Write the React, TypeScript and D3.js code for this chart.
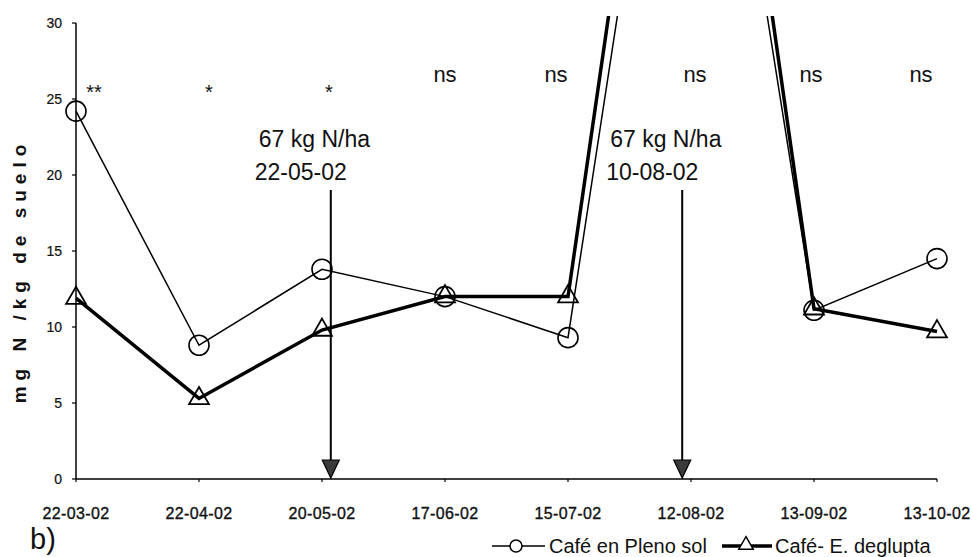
import React from "react";
import * as d3 from "d3";

const categories = ["22-03-02", "22-04-02", "20-05-02", "17-06-02", "15-07-02", "12-08-02", "13-09-02", "13-10-02"];
const plenoSol = [24.2, 8.8, 13.8, 12.0, 9.3, 62, 11.1, 14.5];
const deglupta = [11.9, 5.3, 9.8, 12.0, 12.0, 68, 11.2, 9.7];
const significance = ["**", "*", "*", "ns", "ns", "ns", "ns", "ns"];
const yTicks = [0, 5, 10, 15, 20, 25, 30];
const applicationDates = ["22-05-02", "10-08-02"];
const applicationDose = "67 kg N/ha";
const seriesNames = ["Café en Pleno sol", "Café- E. deglupta"];
const yTitle = "mg N /kg de suelo";
const panelLabel = "b)";

const W = 973, H = 557;
const X0 = 76, X1 = 937, Y0 = 479, Y1 = 23;
const sigDx = [18, 10, 7, 0, -12, 4, -3, -16];
const FONT = "'Liberation Sans', Arial, sans-serif";

export default function App() {
  const x = d3.scalePoint<string>().domain(categories).range([X0, X1]);
  const y = d3.scaleLinear().domain([0, 30]).range([Y0, Y1]);
  const parse = d3.timeParse("%d-%m-%y");
  const xt = d3
    .scaleTime()
    .domain(categories.map((c) => parse(c) as Date))
    .range(categories.map((c) => x(c) as number));
  const line = d3
    .line<number>()
    .x((_, i) => x(categories[i]) as number)
    .y((d) => y(d));
  const tri = d3.symbol(d3.symbolTriangle, 170)() as string;
  const triSmall = d3.symbol(d3.symbolTriangle, 90)() as string;

  return (
    <svg width={W} height={H} style={{ position: "absolute", left: 0, top: 0, background: "#fff" }} fontFamily={FONT}>
      <defs>
        <clipPath id="plot">
          <rect x={0} y={16} width={W} height={Y0 - 16 + 30} />
        </clipPath>
      </defs>
      <rect width={W} height={H} fill="#fff" />

      {/* y axis */}
      <line x1={X0} x2={X0} y1={y(30)} y2={Y0} stroke="#000" strokeWidth={1.5} />
      {yTicks.map((t) => (
        <g key={t}>
          <line x1={X0 - 4} x2={X0} y1={y(t)} y2={y(t)} stroke="#000" strokeWidth={1.2} />
          <text x={62} y={y(t) + 5} textAnchor="end" fontSize={14} fill="#111" stroke="#111" strokeWidth={0.2}>
            {t}
          </text>
        </g>
      ))}
      <text
        transform={`translate(26,271) rotate(-90)`}
        textAnchor="middle"
        fontSize={19}
        fontWeight="bold"
        letterSpacing={6}
        fill="#111"
      >
        {yTitle}
      </text>

      {/* x axis */}
      <line x1={X0} x2={X1} y1={Y0} y2={Y0} stroke="#000" strokeWidth={1.5} />
      {categories.map((c) => (
        <g key={c}>
          <line x1={x(c)} x2={x(c)} y1={Y0} y2={Y0 + 3} stroke="#000" strokeWidth={1.2} />
          <text x={x(c)} y={519} textAnchor="middle" fontSize={16} letterSpacing={0.4} fill="#111" stroke="#111" strokeWidth={0.35}>
            {c}
          </text>
        </g>
      ))}

      {/* significance */}
      {significance.map((s, i) => (
        <text
          key={i}
          x={(x(categories[i]) as number) + sigDx[i]}
          y={s === "ns" ? 82 : 99}
          textAnchor="middle"
          fontSize={s === "ns" ? 22 : 20}
          fill="#111"
        >
          {s}
        </text>
      ))}

      {/* fertilizer applications */}
      {applicationDates.map((d) => {
        const ax = xt(parse(d) as Date);
        return (
          <g key={d}>
            <text x={ax - 72} y={147} fontSize={23} fill="#111">
              {applicationDose}
            </text>
            <text x={ax - 76} y={180} fontSize={23} fill="#111">
              {d}
            </text>
            <line x1={ax} x2={ax} y1={190} y2={462} stroke="#000" strokeWidth={2} />
            <path
              d={`M${ax - 8.5},${y(0) - 19} L${ax + 8.5},${y(0) - 19} L${ax},${y(0) - 1} Z`}
              fill="#3a3a3a"
              stroke="#000"
              strokeWidth={1.2}
            />
          </g>
        );
      })}

      {/* series */}
      <g clipPath="url(#plot)">
        <path d={line(plenoSol) as string} fill="none" stroke="#000" strokeWidth={1.5} />
        <path d={line(deglupta) as string} fill="none" stroke="#000" strokeWidth={3.5} />
      </g>
      {plenoSol.map((v, i) =>
        v <= 30 ? (
          <circle key={"c" + i} cx={x(categories[i])} cy={y(v)} r={10} fill="none" stroke="#000" strokeWidth={1.6} />
        ) : null
      )}
      {deglupta.map((v, i) =>
        v <= 30 ? (
          <path
            key={"t" + i}
            d={tri}
            transform={`translate(${x(categories[i])},${y(v)})`}
            fill="none"
            stroke="#000"
            strokeWidth={1.8}
          />
        ) : null
      )}

      {/* panel label */}
      <text x={30} y={549} fontSize={29} fill="#111">
        {panelLabel}
      </text>

      {/* legend */}
      <g>
        <line x1={492} x2={545} y1={546} y2={546} stroke="#000" strokeWidth={1.5} />
        <circle cx={516} cy={546} r={6} fill="#fff" stroke="#000" strokeWidth={1.5} />
        <text x={549} y={553} fontSize={20} fill="#111">
          {seriesNames[0]}
        </text>
        <line x1={722} x2={772} y1={546} y2={546} stroke="#000" strokeWidth={3.5} />
        <path d={triSmall} transform="translate(746,545)" fill="#fff" stroke="#000" strokeWidth={1.5} />
        <text x={775} y={553} fontSize={20} fill="#111">
          {seriesNames[1]}
        </text>
      </g>
    </svg>
  );
}
